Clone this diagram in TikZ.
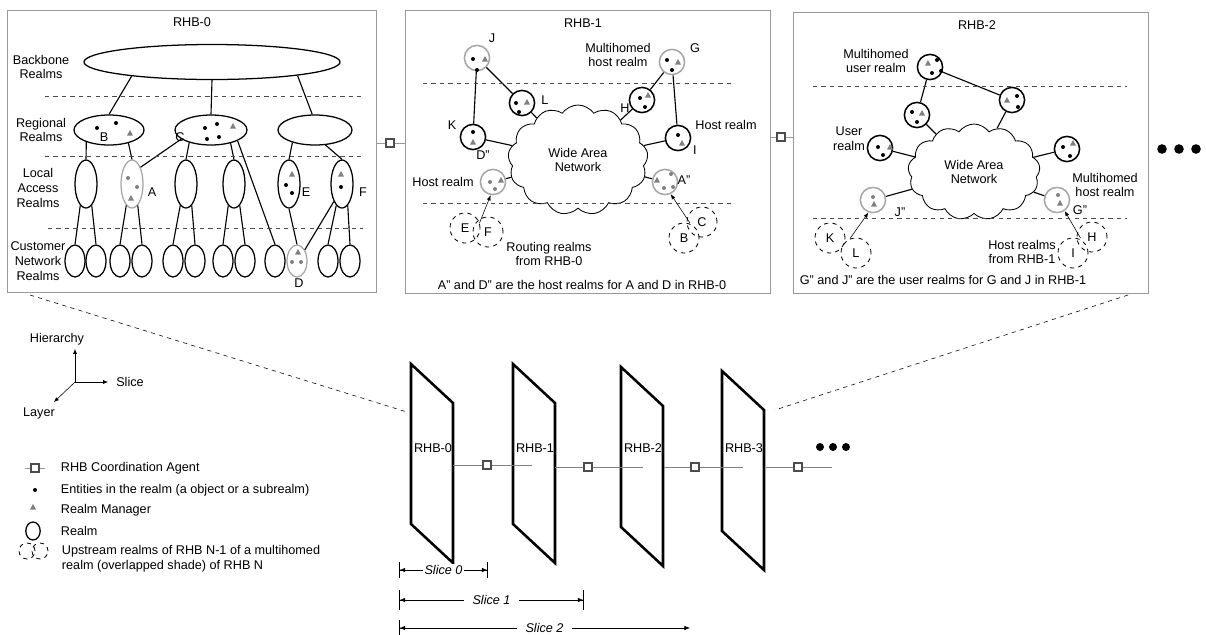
\documentclass[tikz,border=0pt]{standalone}
\usepackage{fontspec}
\setmainfont{Liberation Sans}
\usetikzlibrary{shapes.geometric,shapes.symbols,arrows.meta,calc}

\begin{document}
\begin{tikzpicture}[x=0.025cm,y=-0.025cm,font=\fontsize{9}{10.5}\selectfont]
\tikzstyle realm=[draw, ellipse, line width=0.9pt, inner sep=0pt]
\tikzstyle hrealm=[draw, circle, line width=1.1pt, minimum size=0.63cm, inner sep=0pt]
\tikzstyle grealm=[hrealm, draw=gray!70]
\tikzstyle uprealm=[draw, circle, dashed, line width=0.6pt, minimum size=0.75cm, inner sep=0pt]
\tikzstyle layerline=[dashed, thin, black!70]
\tikzstyle link=[line width=0.8pt]
\tikzstyle agent=[draw=black!70, line width=1pt, fill=white, minimum size=0.2cm, inner sep=0pt]
\tikzstyle wan=[draw, cloud, cloud puffs=13, cloud puff arc=110, aspect=1.4, line width=0.6pt, inner sep=0pt, align=center]
\tikzstyle rhbplane=[line width=1.8pt]
\tikzstyle sliceline=[{Bar[width=0.4cm]Latex[length=1.4mm,width=1.1mm]}-{Latex[length=1.4mm,width=1.1mm]Bar[width=0.4cm]}, thin]
\useasboundingbox (0,0) rectangle (1206,634);

% RHB-0
\draw[gray!80] (7,10) rectangle (376,292);
\node (t0) at (192,22) {RHB-0};
\node[realm, minimum width=6.4cm, minimum height=0.875cm] (bb) at (212,62) {};
\node[realm, minimum width=1.75cm, minimum height=0.75cm] (regB) at (109,130) {};
\node[realm, minimum width=1.8cm, minimum height=0.75cm] (regC) at (211,130) {};
\node[realm, minimum width=1.85cm, minimum height=0.75cm] (regR) at (315,130) {};
\foreach \n/\x in {1/86,3/186,4/234,E/289,F/342}
  \node[realm, minimum width=0.55cm, minimum height=1.2cm] (la\n) at (\x,184) {};
\node[realm, draw=gray!70, minimum width=0.55cm, minimum height=1.2cm] (laA) at (132,184) {};
\foreach \n/\x in {1/75,2/96,3/120,4/142,5/173,6/195,7/223,8/245,9/275,10/328,11/350}
  \node[realm, minimum width=0.5cm, minimum height=0.8cm] (cn\n) at (\x,261) {};
\node[realm, draw=gray!70, minimum width=0.5cm, minimum height=0.8cm] (cnD) at (297,261) {};

\draw[link] (bb.190) -- (regB.north);
\draw[link] (bb.south) -- (regC.north);
\draw[link] (bb.-9) -- (regR.100);
\draw[link] (regB.208) -- (la1.north);
\draw[link] (regB.-34) -- (laA.north);
\draw[link] (regC.197) -- (laA.63);
\draw[link] (regC.210) -- (la3.north);
\draw[link] (regC.-34) -- (la4.north);
\draw[link] (regC.-22) -- (cn9.north);
\draw[link] (regR.209) -- (laE.north);
\draw[link] (regR.-55) -- (laF.north);
\foreach \a/\b/\c in {1/1/2,A/3/4,3/5/6,4/7/8,F/10/11} {
  \draw[link] (la\a.-105) -- (cn\b.north);
  \draw[link] (la\a.-75) -- (cn\c.north);
}
\draw[link] (laE.south) -- (cnD.north);
\draw[link] (laF.-115) -- (cnD.55);

\draw[layerline] (45,96) -- (363,96);
\draw[layerline] (45,156) -- (363,156);
\draw[layerline] (48,228) -- (363,228);

\node[align=center] (lbk) at (41,67) {Backbone\\Realms};
\node[align=center] (lrg) at (41,130) {Regional\\Realms};
\node[align=center] (lla) at (38,188) {Local\\Access\\Realms};
\node[align=center] (lcn) at (38,261) {Customer\\Network\\Realms};
\node (nB) at (104,137) {B};
\node (nC) at (180,137) {C};
\node (nA) at (152,192) {A};
\node (nE) at (306,192) {E};
\node (nF) at (363,192) {F};
\node (nD) at (299,283) {D};

\foreach \x/\y in {97/128,116/123,205/128,217/124,207/139,219/137,286/185,292/193,341/187}
  \fill (\x,\y) circle (0.05cm);
\foreach \x/\y in {128/178,137/187,292/262,301/262}
  \fill[gray] (\x,\y) circle (0.05cm);
\foreach \x/\y in {130/133,233/126,131/198,292/174,341/174,298/252}
  \fill[gray] (\x,\y) +(-3,2.5) -- +(3,2.5) -- +(0,-3) -- cycle;

% RHB-1
\draw[gray!80] (405,10) rectangle (770,293);
\node (t1) at (583,23) {RHB-1};
\node[wan, minimum width=3.5cm, minimum height=2.75cm] (wan1) at (578,160) {Wide Area\\Network};
\node[grealm] (j1) at (477,58) {};
\node[grealm] (g1) at (672,62) {};
\node[hrealm] (l1) at (522,103) {};
\node[hrealm] (h1) at (642,100) {};
\node[hrealm] (k1) at (473,137) {};
\node[hrealm] (i1) at (678,138) {};
\node[grealm] (d1) at (493,182) {};
\node[grealm] (a1) at (665,182) {};
\node[uprealm] (rE) at (465,228) {E};
\node[uprealm] (rF) at (488,232) {F};
\node[uprealm] (rC) at (702,222) {C};
\node[uprealm] (rB) at (684,238) {B};

\draw[link] (j1) -- (k1);
\draw[link] (j1) -- (l1);
\draw[link] (l1) -- (wan1);
\draw[link] (k1) -- (wan1);
\draw[link] (h1) -- (wan1);
\draw[link] (g1) -- (h1);
\draw[link] (g1) -- (i1);
\draw[link] (i1) -- (wan1);
\draw[link] (d1) -- (wan1);
\draw[link] (a1) -- (wan1);
\draw[-{Latex[length=1.3mm,width=1mm]}, thin] ($(rE)!0.5!(rF)+(3,-7)$) -- (d1.-100);
\draw[-{Latex[length=1.3mm,width=1mm]}, thin] ($(rC)!0.5!(rB)+(-3,-7)$) -- (a1.-65);

\draw[layerline] (423,83) -- (735,83);
\draw[layerline] (423,203) -- (735,203);

\node (nJ) at (492,38) {J};
\node (nG) at (695,48) {G};
\node (nL) at (545,100) {L};
\node (nH) at (625,108) {H};
\node (nK) at (452,125) {K};
\node (nI) at (695,150) {I};
\node (nD1) at (483,155) {D”};
\node (nA1) at (684,180) {A”};
\node[align=center] (mh1) at (618,55) {Multihomed\\host realm};
\node (hr1) at (726,125) {Host realm};
\node (hr2) at (443,182) {Host realm};
\node[align=center] (rr1) at (549,254) {Routing realms\\from RHB-0};
\node (ft1) at (582,285) {A” and D” are the host realms for A and D in RHB-0};

\foreach \x/\y in {473/59,477/70,667/60,672/70,516/103,519/112,640/98,645/107,473/132,678/135}
  \fill (\x,\y) circle (0.05cm);
\foreach \x/\y in {490/182,495/189,671/174,664/188,673/187}
  \fill[gray] (\x,\y) circle (0.05cm);
\foreach \x/\y in {485/59,678/62,527/102,648/95,473/142,682/143,501/180,657/180}
  \fill[gray] (\x,\y) +(-3,2.5) -- +(3,2.5) -- +(0,-3) -- cycle;

% RHB-2
\draw[gray!80] (793,12) rectangle (1148,293);
\node (t2) at (977,25) {RHB-2};
\node[wan, minimum width=3.3cm, minimum height=2.4cm] (wan2) at (974,172) {Wide Area\\Network};
\node[hrealm] (top2) at (930,67) {};
\node[hrealm] (mr2) at (1012,100) {};
\node[hrealm] (ml2) at (917,115) {};
\node[hrealm] (u2) at (880,148) {};
\node[hrealm] (r2) at (1067,149) {};
\node[grealm] (j2) at (873,200) {};
\node[grealm] (g2) at (1057,200) {};
\node[uprealm] (rK) at (830,238) {K};
\node[uprealm] (rL) at (856,253) {L};
\node[uprealm] (rH) at (1092,237) {H};
\node[uprealm] (rI) at (1073,253) {I};

\draw[link] (top2) -- (ml2);
\draw[link] (top2) -- (mr2);
\draw[link] (ml2) -- (wan2);
\draw[link] (mr2) -- (wan2);
\draw[link] (u2) -- (wan2);
\draw[link] (r2) -- (wan2);
\draw[link] (j2) -- (wan2);
\draw[link] (g2) -- (wan2);
\draw[-{Latex[length=1.3mm,width=1mm]}, thin] ($(rK)!0.5!(rL)+(7,-7)$) -- (j2.-110);
\draw[-{Latex[length=1.3mm,width=1mm]}, thin] ($(rH)!0.5!(rI)+(-2,-7)$) -- (g2.-55);

\draw[layerline] (813,86) -- (1127,86);
\draw[layerline] (813,218) -- (1127,218);

\node[align=center] (mu2) at (876,61) {Multihomed\\user realm};
\node[align=center] (ur2) at (849,139) {User\\realm};
\node[align=center] (mh2) at (1105,185) {Multihomed\\host realm};
\node[align=center] (hr3) at (1022,252) {Host realms\\from RHB-1};
\node (nJ2) at (900,212) {J”};
\node (nG2) at (1080,210) {G”};
\node (ft2) at (943,280) {G” and J” are the user realms for G and J in RHB-1};

\foreach \x/\y in {937/60,932/73,941/71,1017/96,1018/107,912/112,917/122,878/147,883/155,1063/147,1070/156}
  \fill (\x,\y) circle (0.05cm);
\foreach \x/\y in {873/197,1058/195}
  \fill[gray] (\x,\y) circle (0.05cm);
\foreach \x/\y in {928/63,1007/100,922/113,890/147,1073/143,874/204,1060/203}
  \fill[gray] (\x,\y) +(-3,2.5) -- +(3,2.5) -- +(0,-3) -- cycle;

% coordination agents between panels
\coordinate (e0) at (376,143);
\coordinate (w1) at (405,143);
\coordinate (e1) at (770,137);
\coordinate (w2) at (793,137);
\draw[gray!80] (e0) -- (w1);
\draw[gray!80] (e1) -- (w2);
\node[agent] (ag01) at (390,143) {};
\node[agent] (ag12) at (781,137) {};
\foreach \x in {1162,1179,1196} \fill (\x,149) circle (0.12cm);

% slices
\coordinate (p0) at (30,295);
\coordinate (p0e) at (407,412);
\coordinate (p3) at (1128,295);
\coordinate (p3e) at (775,410);
\draw[dashed, thin] (p0) -- (p0e);
\draw[dashed, thin] (p3) -- (p3e);
\foreach \x/\y/\n in {411/364/0,513/364/1,621/367/2,722/371/3} {
  \draw[rhbplane] (\x,\y) -- ++(42,39) -- ++(0,160) -- ++(-42,-39) -- cycle;
  \node (pl\n) at (\x+22,448) {RHB-\n};
}
\foreach \a/\b/\y/\m in {453/532/465/487,555/643/467/588,664/743/467/695,766/832/467/798} {
  \draw[gray] (\a,\y) -- (\b,\y);
  \node[agent] at (\m,\y) {};
}
\foreach \x in {820,833,846} \fill (\x,447) circle (0.1cm);

\coordinate (s0a) at (399,570);
\coordinate (s0b) at (488,570);
\coordinate (s1a) at (399,600);
\coordinate (s1b) at (584,600);
\coordinate (s2a) at (399,628);
\coordinate (s2b) at (690,628);
\draw[sliceline] (s0a) -- node[fill=white, inner sep=1pt, font=\fontsize{9}{10.5}\selectfont\itshape] (sl0) {Slice 0} (s0b);
\draw[sliceline, {Bar[width=0.5cm]Latex[length=1.4mm,width=1.1mm]}-{Latex[length=1.4mm,width=1.1mm]Bar[width=0.5cm]}] (s1a) -- node[fill=white, inner sep=6pt, font=\fontsize{9}{10.5}\selectfont\itshape] (sl1) {Slice 1} (s1b);
\draw[{Bar[width=0.4cm]Latex[length=1.4mm,width=1.1mm]}-{Latex[length=1.4mm,width=1.1mm]}, thin] (s2a) -- node[fill=white, inner sep=6pt, font=\fontsize{9}{10.5}\selectfont\itshape] (sl2) {Slice 2} (s2b);

% axes
\coordinate (ax) at (75,382);
\coordinate (axh) at (75,349);
\coordinate (axs) at (108,382);
\coordinate (axl) at (54,402);
\draw[-{Latex[length=1.2mm,width=1mm]}, thin] (ax) -- (axh);
\draw[-{Latex[length=1.2mm,width=1mm]}, thin] (ax) -- (axs);
\draw[-{Latex[length=1.2mm,width=1mm]}, thin] (ax) -- (axl);
\node (hy) at (57,339) {Hierarchy};
\node (sl) at (130,382) {Slice};
\node (ly) at (39,413) {Layer};

% legend
\draw[gray!80] (25,468) -- (45,468);
\node[agent] (lga) at (35,468) {};
\fill (35,490) circle (0.05cm);
\fill[gray] (33,507) +(-3,2.5) -- +(3,2.5) -- +(0,-3) -- cycle;
\node[realm, minimum width=0.36cm, minimum height=0.45cm] (lgr) at (33,531) {};
\node[uprealm, minimum size=0.4cm] (lgu1) at (27,551) {};
\node[uprealm, minimum size=0.4cm] (lgu2) at (40,551) {};
\node[anchor=west] (lg1) at (56,468) {RHB Coordination Agent};
\node[anchor=west] (lg2) at (56,490) {Entities in the realm (a object or a subrealm)};
\node[anchor=west] (lg3) at (56,510) {Realm Manager};
\node[anchor=west] (lg4) at (56,531) {Realm};
\node[anchor=west, align=left] (lg5) at (57,559) {Upstream realms of RHB N-1 of a multihomed\\realm (overlapped shade) of RHB N};
\end{tikzpicture}
\end{document}
